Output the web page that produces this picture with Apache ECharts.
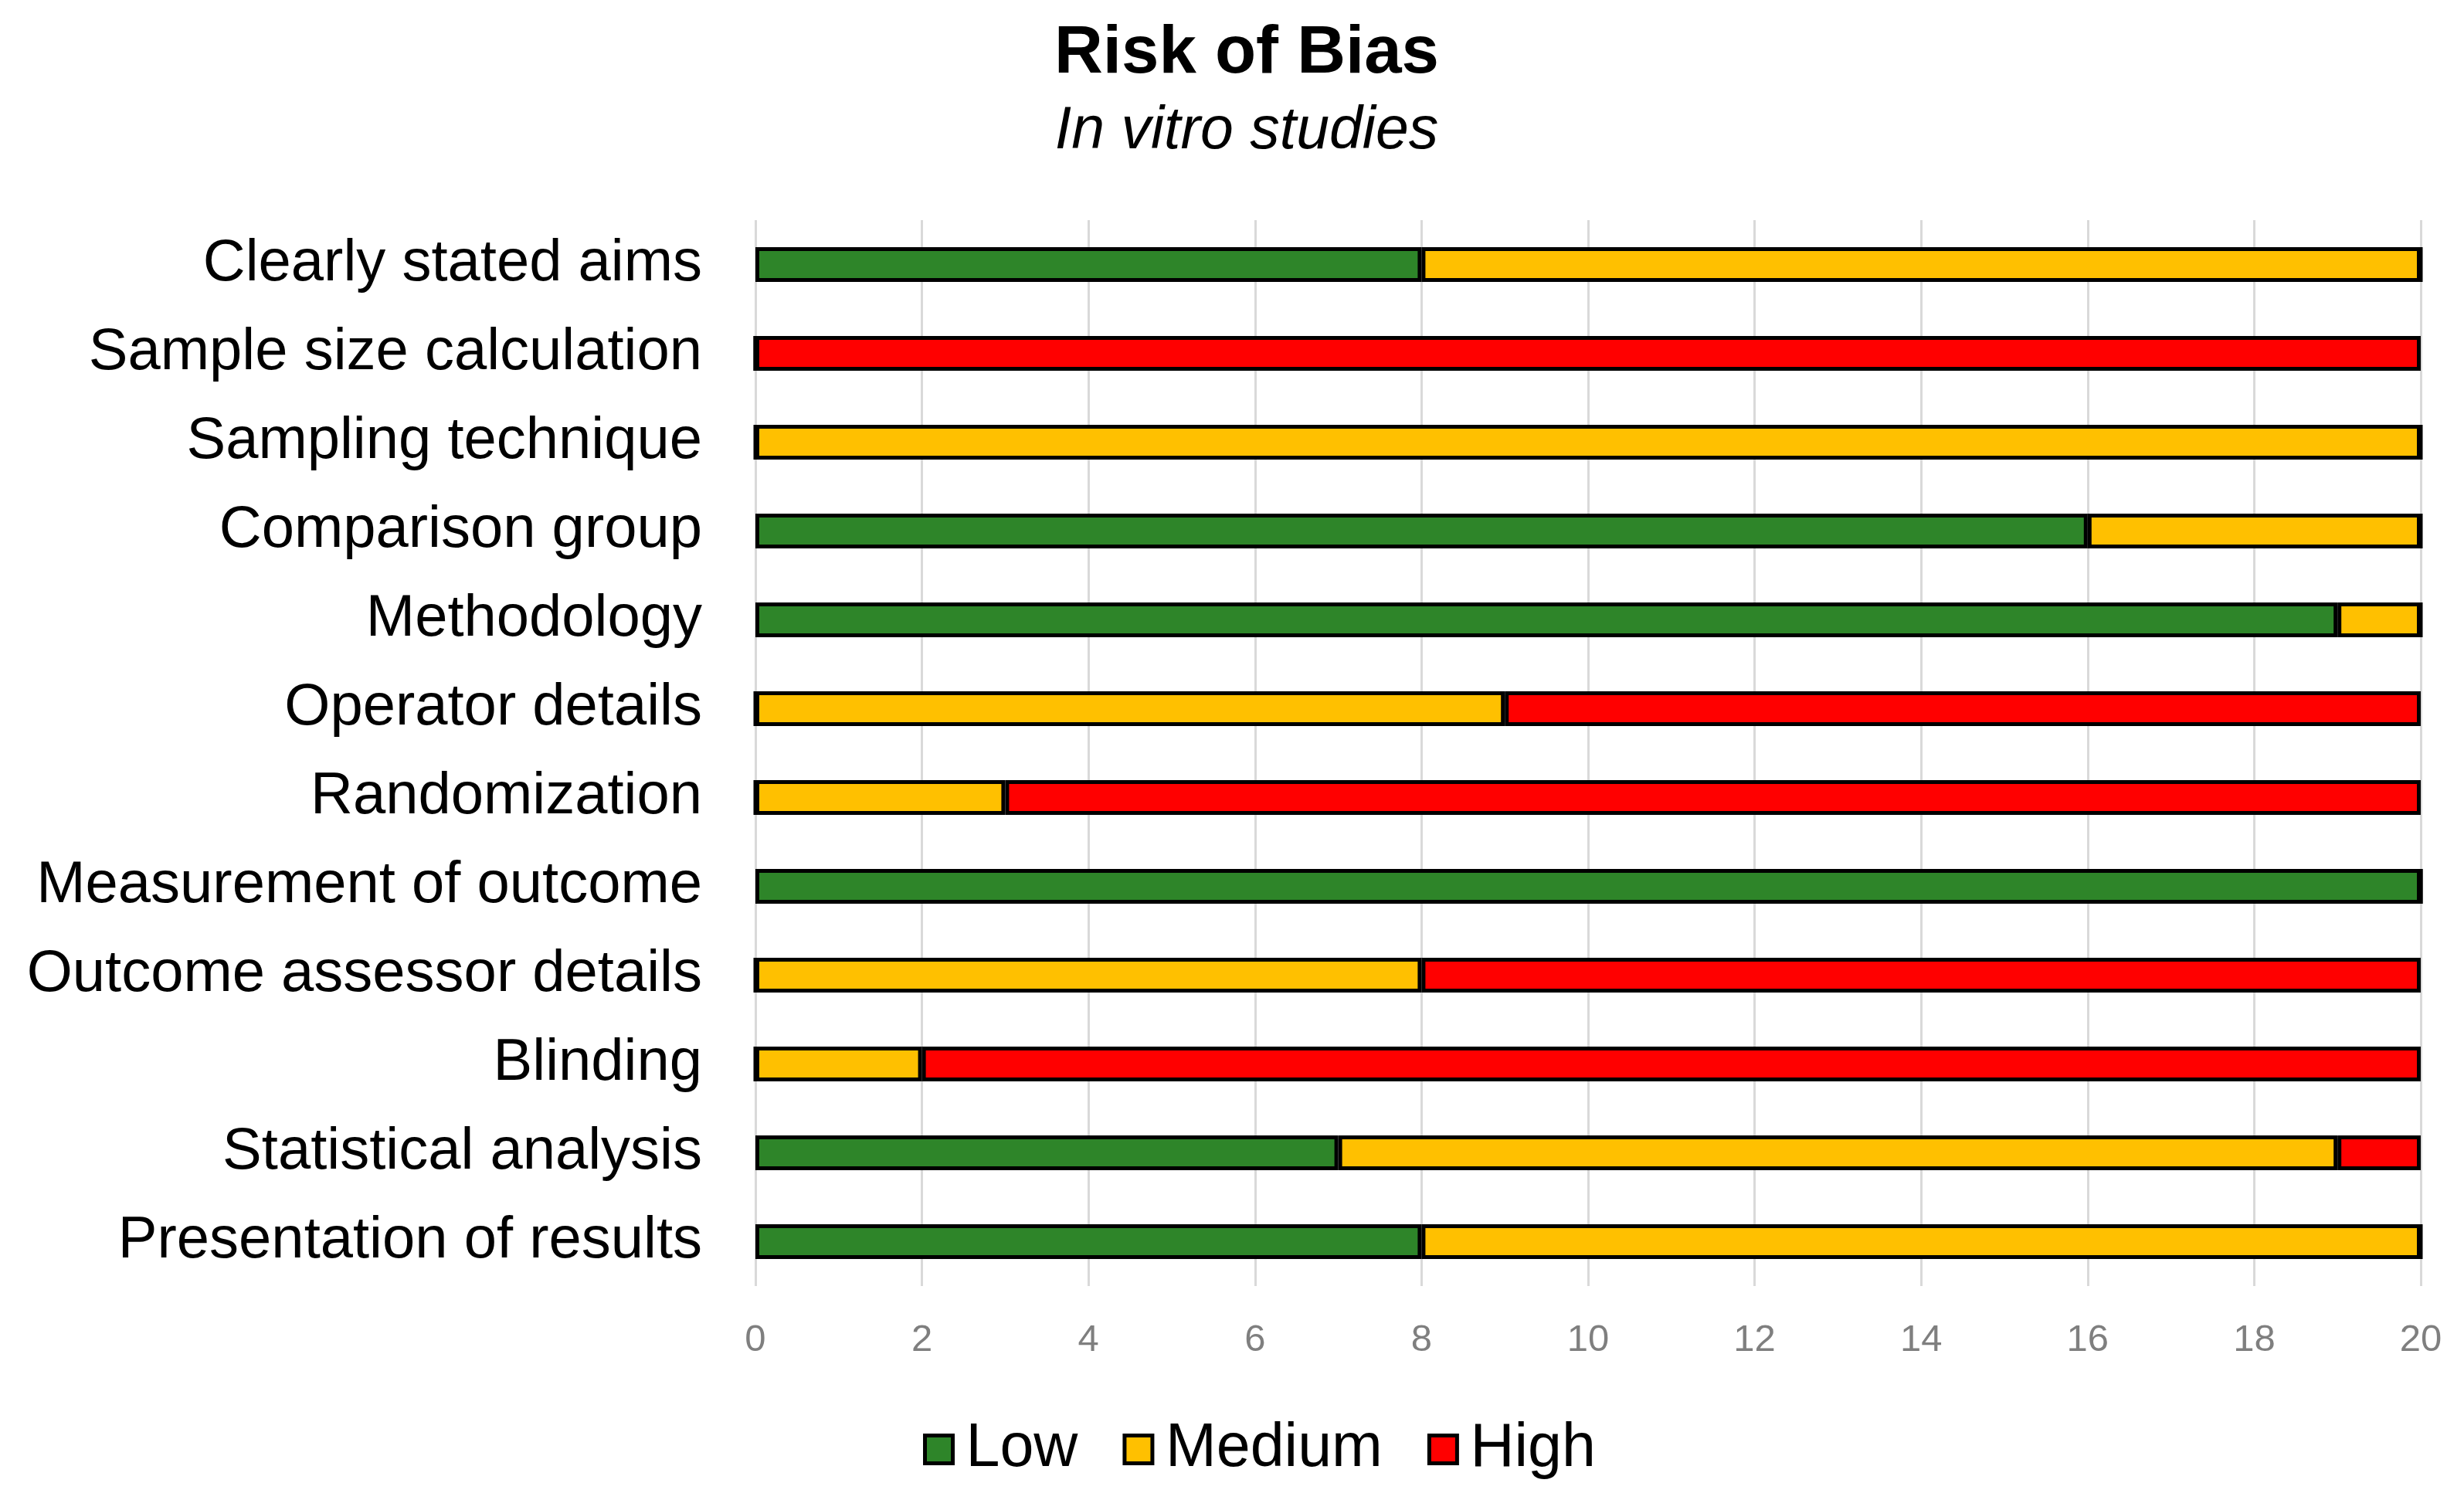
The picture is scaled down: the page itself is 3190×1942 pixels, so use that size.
<!DOCTYPE html>
<html>
<head>
<meta charset="utf-8">
<script src="https://cdn.jsdelivr.net/npm/echarts@6/dist/echarts.min.js"></script>
<style>
html,body{margin:0;padding:0;background:#fff;}
#chart{width:3190px;height:1942px;}
</style>
</head>
<body>
<div id="chart"></div>
<script>
var categories = ['Clearly stated aims','Sample size calculation','Sampling technique','Comparison group','Methodology','Operator details','Randomization','Measurement of outcome','Outcome assessor details','Blinding','Statistical analysis','Presentation of results'];
var lowValues    = [8, 0, 0, 16, 19, 0, 0, 20, 0, 0, 7, 8];
var mediumValues = [12, 0, 20, 4, 1, 9, 3, 0, 8, 2, 12, 12];
var highValues   = [0, 20, 0, 0, 0, 11, 17, 0, 12, 18, 1, 0];
var xTicks = [0, 2, 4, 6, 8, 10, 12, 14, 16, 18, 20];

var font = 'Liberation Sans';
var myChart = echarts.init(document.getElementById('chart'));

function barSeries(name, data, color) {
	return {
		name: name,
		type: 'bar',
		stack: 'total',
		barWidth: 45,
		data: data,
		itemStyle: {color: color, borderColor: '#000', borderWidth: 5},
		emphasis: {disabled: true}
	};
}

myChart.setOption({
	animation: false,
	backgroundColor: '#fff',
	title: {
		text: 'Risk of Bias',
		subtext: 'In vitro studies',
		left: 1609,
		textAlign: 'center',
		top: 22,
		itemGap: 18,
		textStyle: {fontFamily: font, fontSize: 87, fontWeight: 'bold', color: '#000'},
		subtextStyle: {fontFamily: font, fontSize: 77, fontStyle: 'italic', color: '#000'}
	},
	legend: {
		data: ['Low','Medium','High'],
		left: 1190,
		top: 1832,
		itemWidth: 36,
		itemHeight: 36,
		itemGap: 58,
		icon: 'rect',
		itemStyle: {borderColor: '#000', borderWidth: 5},
		textStyle: {fontFamily: font, fontSize: 79, color: '#000', padding: [0, 0, 0, 12]}
	},
	grid: {left: 978, right: 56, top: 285, height: 1380, containLabel: false},
	xAxis: {
		type: 'value',
		min: xTicks[0],
		max: xTicks[xTicks.length - 1],
		interval: 2,
		axisLine: {show: false},
		axisTick: {show: false},
		axisLabel: {fontFamily: font, fontSize: 49, color: '#7f7f7f', margin: 46},
		splitLine: {show: true, lineStyle: {color: '#d9d9d9', width: 3}}
	},
	yAxis: {
		type: 'category',
		data: categories,
		inverse: true,
		axisLine: {show: false},
		axisTick: {show: false},
		axisLabel: {fontFamily: font, fontSize: 76, color: '#000', margin: 69, padding: [8, 0, 0, 0]}
	},
	series: [
		barSeries('Low', lowValues, '#2e8529'),
		barSeries('Medium', mediumValues, '#ffc000'),
		barSeries('High', highValues, '#ff0000')
	]
});
</script>
</body>
</html>
